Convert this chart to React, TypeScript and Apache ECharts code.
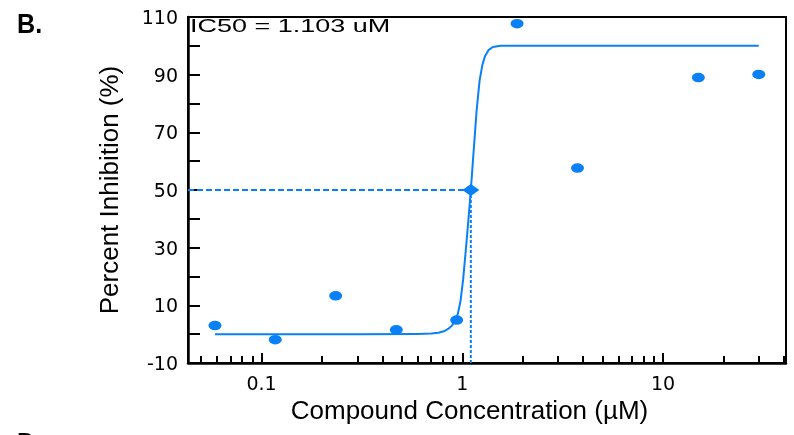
import React, { useEffect, useRef } from 'react';
import * as echarts from 'echarts';

// Measured points (µM, % inhibition)
const concentrations = [0.0586, 0.117, 0.234, 0.469, 0.9375, 1.875, 3.75, 15, 30];
const inhibition = [3.0, -1.9, 13.3, 1.5, 4.9, 107.7, 57.6, 89.0, 90.1];

// Fitted curve
const curveConc = [0.0586, 0.3, 0.6, 0.7, 0.76, 0.81, 0.85, 0.89, 0.92, 0.95, 0.98, 1.01, 1.05, 1.09, 1.103, 1.135, 1.18, 1.22, 1.26, 1.3, 1.35, 1.42, 1.55, 2, 30];
const curveVal = [0, 0, 0.1, 0.2, 0.5, 1, 1.8, 3, 4.6, 7, 11.5, 19, 32, 45.5, 50, 62, 78, 88, 93.5, 96.5, 98.5, 99.6, 100, 100, 100];

const ic50 = 1.103;
const halfInhibition = 50;

const xMin = 0.043;
const xMax = 41;
const yMin = -10;
const yMax = 110;
const yStep = 10;
const xMajorTicks = [0.1, 1, 10];
const xMinorTicks = [0.05, 0.06, 0.07, 0.08, 0.09, 0.2, 0.3, 0.4, 0.5, 0.6, 0.7, 0.8, 0.9, 2, 3, 4, 5, 6, 7, 8, 9, 20, 30, 40];

const blue = '#0a80f6';
const black = '#000';

export default function App() {
  const ref = useRef<HTMLDivElement>(null);
  useEffect(() => {
    document.body.style.margin = '0';
    const chart = echarts.init(ref.current as HTMLDivElement, undefined, { renderer: 'svg' });
    const axisLineStyle = { color: black, width: 2.5 };
    const tickStyle = { color: black, width: 2 };
    const labelFont = '"DejaVu Sans", Verdana, sans-serif';
    const titleFont = '"Liberation Sans", Arial, sans-serif';
    const option: any = {
      animation: false,
      grid: { left: 188, top: 17, right: 8, bottom: 72, show: true, borderColor: black, borderWidth: 2, backgroundColor: 'transparent' },
      xAxis: [
        {
          type: 'log', logBase: 10, min: xMin, max: xMax, position: 'bottom',
          axisLine: { show: true, onZero: false, lineStyle: axisLineStyle },
          axisTick: { show: true, inside: true, length: 10, lineStyle: tickStyle, customValues: xMajorTicks },
          axisLabel: {
            customValues: xMajorTicks,
            formatter: (v: number) => String(+Number(v).toPrecision(3)),
            color: black, fontSize: 19, fontFamily: labelFont, margin: 10,
          },
          splitLine: { show: false },
          minorTick: { show: false },
          name: 'Compound Concentration (µM)', nameLocation: 'middle', nameGap: 30,
          nameTextStyle: { fontSize: 26, fontFamily: titleFont, color: black, padding: [0, 35, 0, 0] },
        },
        {
          type: 'log', logBase: 10, min: xMin, max: xMax, position: 'bottom',
          axisLine: { show: false, onZero: false },
          axisTick: { show: true, inside: true, length: 7, lineStyle: tickStyle, customValues: xMinorTicks },
          axisLabel: { show: false },
          splitLine: { show: false },
        },
      ],
      yAxis: {
        type: 'value', min: yMin, max: yMax, interval: yStep,
        axisLine: { show: true, onZero: false, lineStyle: axisLineStyle },
        axisTick: { show: true, inside: true, length: 12, lineStyle: tickStyle },
        axisLabel: {
          formatter: (v: number) => ((v - yMin) % (2 * yStep) === 0 ? String(v) : ''),
          color: black, fontSize: 19, fontFamily: labelFont, margin: 10,
        },
        splitLine: { show: false },
        name: 'Percent Inhibition (%)', nameLocation: 'middle', nameGap: 66, nameRotate: 90,
        nameTextStyle: { fontSize: 26, fontFamily: titleFont, color: black },
      },
      graphic: [
        { type: 'text', x: 17, y: 10, scaleX: 0.9, style: { text: 'B.', font: 'bold 28px "Liberation Sans", Arial, sans-serif', fill: black, textVerticalAlign: 'top' } },
        { type: 'text', x: 17, y: 429, scaleX: 0.9, style: { text: 'D.', font: 'bold 28px "Liberation Sans", Arial, sans-serif', fill: black, textVerticalAlign: 'top' } },
        { type: 'text', x: 190, y: 16, scaleX: 1.42, style: { text: 'IC50 = 1.103 uM', font: '19px "Liberation Sans", Arial, sans-serif', fill: black, textVerticalAlign: 'top' } },
      ],
      series: [
        {
          type: 'line', xAxisIndex: 0, data: [[xMin, halfInhibition], [ic50, halfInhibition]],
          showSymbol: false, lineStyle: { color: blue, width: 1.8, type: [6, 3] }, silent: true, z: 2,
        },
        {
          type: 'line', xAxisIndex: 0, data: [[ic50, halfInhibition], [ic50, yMin]],
          showSymbol: false, lineStyle: { color: blue, width: 2, type: [3, 2] }, silent: true, z: 2,
        },
        {
          type: 'line', xAxisIndex: 0, data: curveConc.map((c, i) => [c, curveVal[i]]),
          showSymbol: false, smooth: false, lineStyle: { color: blue, width: 2, join: 'round' }, z: 3,
        },
        {
          type: 'scatter', xAxisIndex: 0, data: concentrations.map((c, i) => [c, inhibition[i]]),
          symbol: 'path://M0 5A5 5 0 1 0 10 5A5 5 0 1 0 0 5Z', symbolSize: [13, 9.5],
          itemStyle: { color: blue, opacity: 1 }, z: 4,
        },
        {
          type: 'scatter', xAxisIndex: 0, data: [[ic50, halfInhibition]],
          symbol: 'diamond', symbolSize: [17, 12], itemStyle: { color: blue, opacity: 1 }, z: 5,
        },
      ],
    };
    chart.setOption(option);
    return () => chart.dispose();
  }, []);
  return <div ref={ref} style={{ position: 'fixed', left: 0, top: 0, width: 794, height: 435 }} />;
}
